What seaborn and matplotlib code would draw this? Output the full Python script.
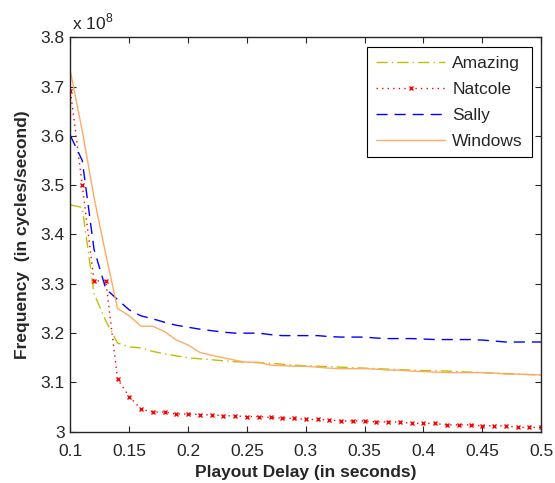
import numpy as np
import pandas as pd
import matplotlib
matplotlib.use('Agg')
import matplotlib.pyplot as plt
from matplotlib.ticker import FuncFormatter
import seaborn as sns

delay = [0.10, 0.11, 0.12, 0.13, 0.14, 0.15, 0.16, 0.17, 0.18, 0.19,
         0.20, 0.21, 0.22, 0.23, 0.24, 0.25, 0.26, 0.27, 0.28, 0.29,
         0.30, 0.31, 0.32, 0.33, 0.34, 0.35, 0.36, 0.37, 0.38, 0.39,
         0.40, 0.41, 0.42, 0.43, 0.44, 0.45, 0.46, 0.47, 0.48, 0.49, 0.50]

# frequency in units of 1e8 cycles/second
amazing = [3.460, 3.455, 3.280, 3.225, 3.180, 3.172, 3.170, 3.163, 3.158, 3.154,
           3.150, 3.148, 3.146, 3.144, 3.142, 3.141, 3.140, 3.139, 3.137, 3.135,
           3.134, 3.133, 3.132, 3.131, 3.130, 3.129, 3.128, 3.127, 3.126, 3.125,
           3.124, 3.124, 3.123, 3.122, 3.121, 3.120, 3.119, 3.118, 3.117, 3.116, 3.116]
natcole = [3.690, 3.500, 3.306, 3.306, 3.107, 3.071, 3.046, 3.040, 3.040, 3.036,
           3.036, 3.035, 3.034, 3.033, 3.032, 3.031, 3.031, 3.029, 3.028, 3.027,
           3.025, 3.025, 3.024, 3.022, 3.022, 3.022, 3.020, 3.020, 3.020, 3.017,
           3.017, 3.017, 3.014, 3.014, 3.014, 3.012, 3.012, 3.012, 3.009, 3.009, 3.009]
sally = [3.600, 3.550, 3.370, 3.290, 3.268, 3.247, 3.235, 3.229, 3.222, 3.216,
         3.212, 3.208, 3.205, 3.202, 3.200, 3.200, 3.200, 3.197, 3.195, 3.195,
         3.195, 3.195, 3.193, 3.192, 3.192, 3.192, 3.190, 3.189, 3.189, 3.189,
         3.188, 3.187, 3.187, 3.187, 3.187, 3.186, 3.184, 3.182, 3.182, 3.182, 3.182]
windows = [3.730, 3.610, 3.475, 3.360, 3.250, 3.235, 3.214, 3.214, 3.203, 3.186,
           3.176, 3.161, 3.155, 3.150, 3.145, 3.141, 3.141, 3.135, 3.134, 3.133,
           3.133, 3.131, 3.129, 3.128, 3.128, 3.128, 3.127, 3.125, 3.125, 3.123,
           3.122, 3.121, 3.120, 3.120, 3.120, 3.120, 3.119, 3.117, 3.117, 3.116, 3.115]

series_names = ['Amazing', 'Natcole', 'Sally', 'Windows']
series_values = [amazing, natcole, sally, windows]

df = pd.concat([pd.DataFrame({'delay': delay, 'freq': v, 'Legend': n})
                for n, v in zip(series_names, series_values)], ignore_index=True)

sns.set_style("ticks")
plt.rcParams['font.family'] = ['Liberation Sans', 'DejaVu Sans']
plt.rcParams['mathtext.fontset'] = 'custom'
plt.rcParams['mathtext.rm'] = 'Liberation Sans'
plt.rcParams['xtick.direction'] = 'in'
plt.rcParams['ytick.direction'] = 'in'

styles = {
    'Amazing': dict(color='#c0c000', dashes=(8, 3, 1, 3)),
    'Natcole': dict(color='#ff0000', dashes=(1, 3)),
    'Sally': dict(color='#0000ff', dashes=(8, 5)),
    'Windows': dict(color='#ffaa66', linestyle='-'),
}

fig = plt.figure(figsize=(5.55, 4.83), dpi=100)
ax = fig.add_axes([0.127, 0.106, 0.848, 0.817])

for name in series_names:
    _df = df[df['Legend'] == name]
    sns.lineplot(data=_df, x='delay', y='freq', ax=ax, label=name,
                 linewidth=1, **styles[name])

# seaborn sets white marker edges; put red x markers on the Natcole line
for line in ax.get_lines():
    if line.get_label() == 'Natcole':
        line.set_marker('x')
        line.set_markersize(3)
        line.set_markeredgewidth(1.0)
        line.set_markeredgecolor('#ff0000')
        line.set_markerfacecolor('#ff0000')

ax.set_xlim(0.1, 0.5)
ax.set_ylim(3.0, 3.8)
ax.set_xticks([0.1, 0.15, 0.2, 0.25, 0.3, 0.35, 0.4, 0.45, 0.5])
ax.set_yticks([3.0, 3.1, 3.2, 3.3, 3.4, 3.5, 3.6, 3.7, 3.8])
ax.xaxis.set_major_formatter(FuncFormatter(lambda v, p: '%g' % round(v, 2)))
ax.yaxis.set_major_formatter(FuncFormatter(lambda v, p: '%g' % round(v, 1)))
ax.tick_params(top=True, right=True, labelsize=12.5, length=4, width=0.8)
ax.tick_params(axis='x', pad=9)
ax.tick_params(axis='y', pad=4)
for s in ax.spines.values():
    s.set_linewidth(1.0)

ax.set_xlabel('Playout Delay (in seconds)', fontsize=12.5, fontweight='bold', labelpad=4)
ax.set_ylabel('Frequency  (in cycles/second)', fontsize=12.5, fontweight='bold', labelpad=8)
ax.text(0.004, 1.012, 'x 10$^{8}$', transform=ax.transAxes, fontsize=12.5,
        ha='left', va='bottom')

leg = ax.legend(loc='upper right', fontsize=12.5, frameon=True, fancybox=False,
                handlelength=4.0, handletextpad=0.4, borderpad=0.5,
                labelspacing=0.62, borderaxespad=0, numpoints=1,
                bbox_to_anchor=(0.98, 0.975))
leg.get_frame().set_edgecolor('black')
leg.get_frame().set_linewidth(0.8)
leg.get_frame().set_alpha(1)

fig.savefig('out.png', dpi=100)
